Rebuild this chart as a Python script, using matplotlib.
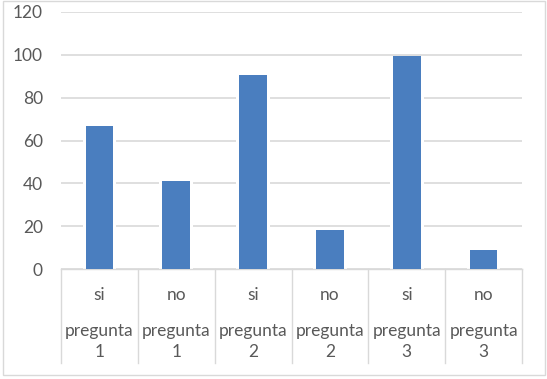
import matplotlib
matplotlib.use("Agg")
import matplotlib.pyplot as plt
from matplotlib.patches import Rectangle
import matplotlib.transforms as mtransforms

answers = ["si", "no", "si", "no", "si", "no"]
questions = ["pregunta", "pregunta", "pregunta", "pregunta", "pregunta", "pregunta"]
numbers = ["1", "1", "2", "2", "3", "3"]
values = [67, 41, 90.5, 18, 99.3, 9]
yticks = [0, 20, 40, 60, 80, 100, 120]

W, H = 547, 379
fig = plt.figure(figsize=(W / 100, H / 100), dpi=100)
plt.rcParams['font.family'] = ['Lato', 'DejaVu Sans']
TXT = '#595959'
GRID = '#d9d9d9'
BLUE = '#4a7ebf'
FS = 12.5

left, right, top, bottom = 61, 522, 12, 269
ax = fig.add_axes([left / W, (H - bottom) / H, (right - left) / W, (bottom - top) / H])
n = len(values)
x = list(range(n))
ax.set_xlim(-0.5, n - 0.5)
ax.set_ylim(0, 120)
ax.set_yticks(yticks)
ax.set_yticklabels([str(v) for v in yticks], fontsize=FS, color=TXT)
ax.tick_params(axis='y', length=0, pad=13)
ax.set_xticks([])
for s in ['top', 'right', 'left']:
    ax.spines[s].set_visible(False)
ax.spines['bottom'].set_color(GRID)
ax.spines['bottom'].set_linewidth(1)
ax.yaxis.grid(True, color=GRID, linewidth=1.2)
ax.set_axisbelow(True)

ax.bar(x, values, width=0.44, color='white', zorder=2)
ax.bar(x, values, width=0.36, color=BLUE, zorder=3)

trans = mtransforms.blended_transform_factory(ax.transData, ax.transAxes)
axh = bottom - top
sep_bottom = -(363 - bottom) / axh
for i in range(n + 1):
    ax.plot([i - 0.5, i - 0.5], [0, sep_bottom], transform=trans, color=GRID,
            linewidth=1, clip_on=False)
for i in range(n):
    ax.text(i, -(295 - bottom) / axh, answers[i], transform=trans, ha='center',
            va='center', fontsize=FS, color=TXT)
    ax.text(i, -(331 - bottom) / axh, questions[i], transform=trans, ha='center',
            va='center', fontsize=FS, color=TXT)
    ax.text(i, -(352 - bottom) / axh, numbers[i], transform=trans, ha='center',
            va='center', fontsize=FS, color=TXT)

fig.patches.append(Rectangle((2.5 / W, 4.5 / H), 542 / W, 374 / H, transform=fig.transFigure,
                             fill=False, edgecolor=GRID, linewidth=1))
fig.savefig("out.png", dpi=100)
